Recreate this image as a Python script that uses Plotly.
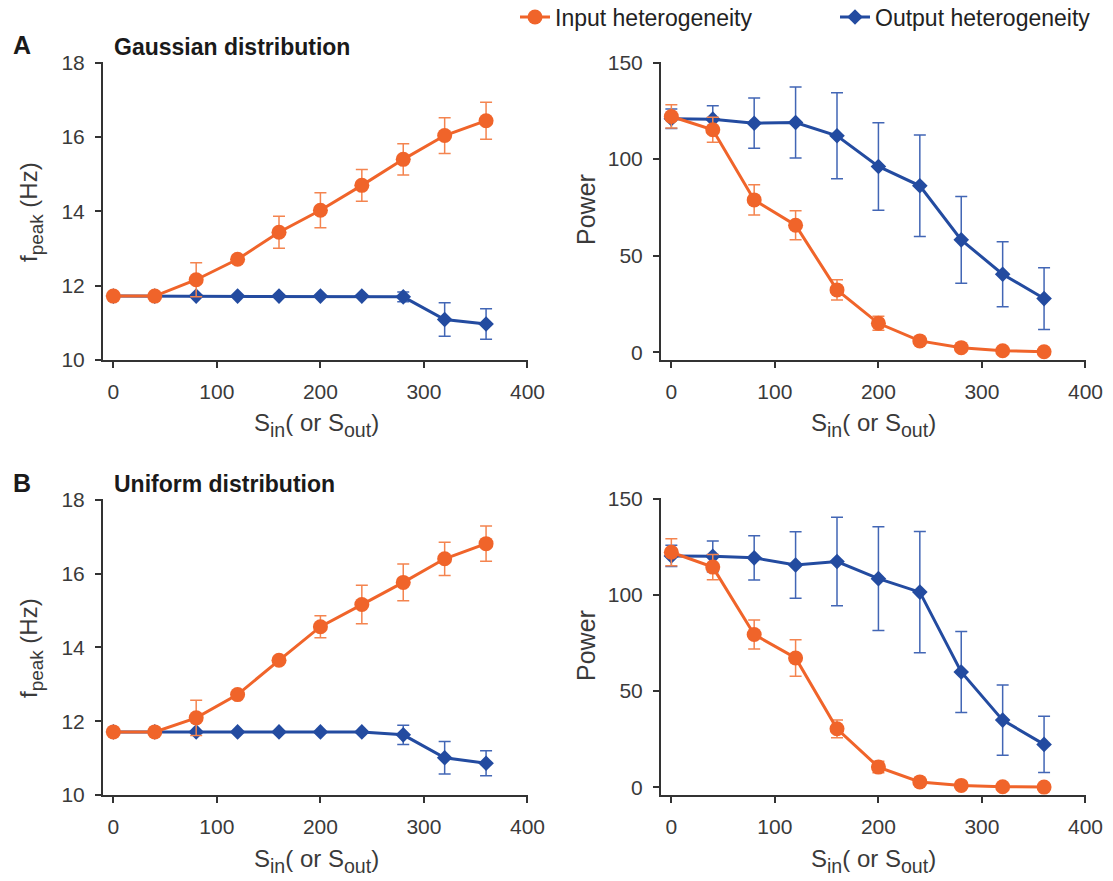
import plotly.graph_objects as go

W, H = 1113, 881
ML, MR, MT, MB = 50, 15, 50, 30

s_values = [0, 40, 80, 120, 160, 200, 240, 280, 320, 360]

# Panel A (Gaussian) - peak frequency
a_fpeak_in = [11.72, 11.72, 12.16, 12.71, 13.44, 14.03, 14.70, 15.40, 16.04, 16.44]
a_fpeak_in_err = [0.0, 0.0, 0.46, 0.0, 0.43, 0.47, 0.43, 0.42, 0.48, 0.50]
a_fpeak_out = [11.72, 11.72, 11.72, 11.72, 11.72, 11.72, 11.72, 11.70, 11.09, 10.97]
a_fpeak_out_err = [0.0, 0.0, 0.0, 0.0, 0.0, 0.0, 0.0, 0.13, 0.45, 0.41]

# Panel A (Gaussian) - power
a_power_in = [122.1, 115.2, 78.9, 65.8, 32.3, 15.0, 5.9, 2.4, 0.8, 0.3]
a_power_in_err = [6.0, 6.5, 7.8, 7.5, 5.2, 3.6, 1.0, 0.5, 0.3, 0.2]
a_power_out = [120.9, 120.7, 118.6, 119.0, 112.1, 96.2, 86.2, 58.2, 40.4, 27.8]
a_power_out_err = [5.0, 7.0, 13.0, 18.4, 22.3, 22.6, 26.3, 22.5, 16.8, 16.0]

# Panel B (Uniform) - peak frequency
b_fpeak_in = [11.71, 11.71, 12.09, 12.72, 13.65, 14.56, 15.16, 15.76, 16.40, 16.81]
b_fpeak_in_err = [0.0, 0.0, 0.48, 0.0, 0.0, 0.30, 0.52, 0.50, 0.45, 0.48]
b_fpeak_out = [11.71, 11.71, 11.71, 11.71, 11.71, 11.71, 11.71, 11.63, 11.01, 10.86]
b_fpeak_out_err = [0.0, 0.0, 0.0, 0.0, 0.0, 0.0, 0.0, 0.26, 0.44, 0.34]

# Panel B (Uniform) - power
b_power_in = [122.1, 114.4, 79.4, 67.2, 30.4, 10.5, 2.8, 1.0, 0.3, 0.1]
b_power_in_err = [7.0, 6.6, 7.5, 9.5, 4.6, 3.0, 1.0, 0.4, 0.2, 0.1]
b_power_out = [120.2, 120.0, 119.2, 115.5, 117.3, 108.4, 101.4, 59.9, 34.9, 22.3]
b_power_out_err = [5.5, 8.0, 11.5, 17.3, 23.0, 27.0, 31.5, 21.0, 18.2, 14.6]

x_ticks = [0, 100, 200, 300, 400]
f_ticks = [10, 12, 14, 16, 18]
p_ticks = [0, 50, 100, 150]

ORANGE = "#F0642A"
ORANGE_ERR = "#F4844F"
BLUE = "#234BA0"
BLUE_ERR = "#4266B5"
AX = "#333333"
TXT = "#3a3a3a"
FONT = "Liberation Sans, Arial, sans-serif"

fig = go.Figure()

panels = [
    ("x", "y", a_fpeak_in, a_fpeak_in_err, a_fpeak_out, a_fpeak_out_err, True),
    ("x2", "y2", a_power_in, a_power_in_err, a_power_out, a_power_out_err, False),
    ("x3", "y3", b_fpeak_in, b_fpeak_in_err, b_fpeak_out, b_fpeak_out_err, False),
    ("x4", "y4", b_power_in, b_power_in_err, b_power_out, b_power_out_err, False),
]

for xa, ya, vin, ein, vout, eout, show in panels:
    fig.add_trace(go.Scatter(
        x=s_values, y=vout, xaxis=xa, yaxis=ya, mode="lines+markers",
        name="Output heterogeneity", showlegend=show, legendrank=2,
        line=dict(color=BLUE, width=3),
        marker=dict(symbol="diamond", size=12, color=BLUE),
        error_y=dict(type="data", array=eout, visible=True, color=BLUE_ERR,
                     thickness=1.5, width=6),
    ))
    fig.add_trace(go.Scatter(
        x=s_values, y=vin, xaxis=xa, yaxis=ya, mode="lines+markers",
        name="Input heterogeneity", showlegend=show, legendrank=1,
        line=dict(color=ORANGE, width=3),
        marker=dict(symbol="circle", size=15, color=ORANGE),
        error_y=dict(type="data", array=ein, visible=True, color=ORANGE_ERR,
                     thickness=1.5, width=6),
    ))

PW = W - ML - MR
PH = H - MT - MB

def fx(px):
    return (px - ML) / PW

def fy(py):
    return 1 - (py - MT) / PH

def xd(a, b):
    return [fx(a), fx(b)]

def yd(top, bottom):
    return [fy(bottom), fy(top)]

common_axis = dict(
    showline=True, linecolor=AX, linewidth=2, ticks="outside", ticklen=6,
    tickwidth=1.5, tickcolor=AX, showgrid=False, zeroline=False, automargin=False,
    tickfont=dict(family=FONT, size=21, color=TXT), mirror=False,
    ticklabelstandoff=6,
)

layout_axes = {
    "xaxis": dict(domain=xd(103, 528), range=[-10, 400.5], tickvals=x_ticks, anchor="y", **common_axis),
    "yaxis": dict(domain=yd(62, 360), range=[10, 18.02], tickvals=f_ticks, anchor="x", **common_axis),
    "xaxis2": dict(domain=xd(661, 1086), range=[-10, 400.5], tickvals=x_ticks, anchor="y2", **common_axis),
    "yaxis2": dict(domain=yd(62, 360), range=[-4, 150.3], tickvals=p_ticks, anchor="x2", **common_axis),
    "xaxis3": dict(domain=xd(103, 528), range=[-10, 400.5], tickvals=x_ticks, anchor="y3", **common_axis),
    "yaxis3": dict(domain=yd(499, 795), range=[10, 18.02], tickvals=f_ticks, anchor="x3", **common_axis),
    "xaxis4": dict(domain=xd(661, 1086), range=[-10, 400.5], tickvals=x_ticks, anchor="y4", **common_axis),
    "yaxis4": dict(domain=yd(498, 795), range=[-4, 150.3], tickvals=p_ticks, anchor="x4", **common_axis),
}

annotations = []
def ann(text, x, y, size=20, bold=False, angle=0, xanchor="center"):
    annotations.append(dict(
        text=f"<b>{text}</b>" if bold else text, x=fx(x), y=fy(y),
        xref="paper", yref="paper", showarrow=False, textangle=angle,
        xanchor=xanchor, yanchor="middle",
        font=dict(family=FONT, size=size, color="#1a1a1a" if bold else TXT),
    ))

big = lambda t, s=24: f'<span style="font-size:{s}px">{t}</span>'
xtitle = f"{big('S')}<sub>in</sub>{big('( or S')}<sub>out</sub>{big(')')}"
ytitle = f"{big('f')}<sub>peak</sub>{big(' (Hz)')}"
ann(xtitle, 316, 425, size=28)
ann(xtitle, 873, 425, size=28)
ann(xtitle, 316, 861, size=28)
ann(xtitle, 873, 861, size=28)
ann(ytitle, 31, 212, size=27, angle=-90)
ann(ytitle, 31, 648, size=27, angle=-90)
ann("Power", 586, 210, size=25, angle=-90)
ann("Power", 586, 646, size=25, angle=-90)
ann("A", 11, 45, size=25, bold=True, xanchor="left")
ann("B", 11, 483, size=25, bold=True, xanchor="left")
ann("Gaussian distribution", 112, 47, size=23, bold=True, xanchor="left")
ann("Uniform distribution", 112, 484, size=23, bold=True, xanchor="left")

fig.update_layout(
    width=W, height=H, margin=dict(l=ML, r=MR, t=MT, b=MB, autoexpand=False),
    paper_bgcolor="white", plot_bgcolor="white",
    font=dict(family=FONT, size=18, color=TXT),
    annotations=annotations,
    legend=dict(orientation="h", xref="container", yref="container",
                x=515 / W, y=1 - 17 / H, xanchor="left", yanchor="middle",
                font=dict(family=FONT, size=23, color="#222"),
                bgcolor="rgba(0,0,0,0)", entrywidth=275, entrywidthmode="pixels",
                traceorder="normal"),
    **layout_axes,
)

fig.write_html("out.html")
